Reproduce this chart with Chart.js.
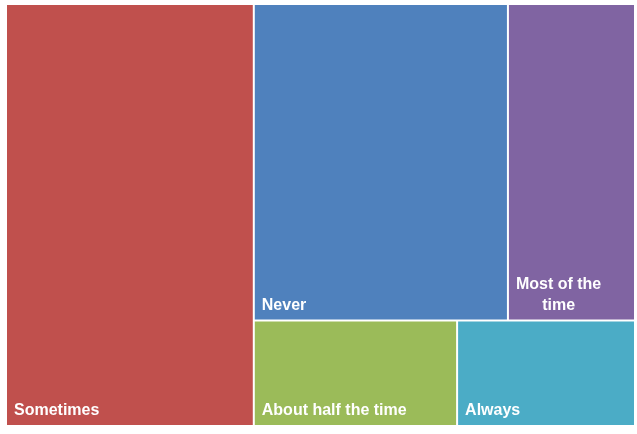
<!DOCTYPE html>
<html>
<head>
<meta charset="utf-8">
<script src="https://cdn.jsdelivr.net/npm/chart.js@4"></script>
<style>
  html, body { margin: 0; padding: 0; background: #fff; }
  #wrap { width: 637px; height: 434px; }
</style>
</head>
<body>
<div id="wrap"><canvas id="treeChart"></canvas></div>
<script>
const categories = ['Sometimes', 'Never', 'Most of the time', 'About half the time', 'Always'];
const values = [39, 30, 15, 8, 7];
const colors = ['#C0504D', '#4F81BD', '#8064A2', '#9BBB59', '#4BACC6'];
// cells per strip: first strip is a column, the next ones are rows
const stripSizes = [1, 2, 2];

// Bereken de rechthoeken in waarde-eenheden (0..1 op beide assen)
function layoutCells() {
  const cells = [];
  let rect = { x: 0, y: 0, w: 1, h: 1 };
  let rest = values.reduce((a, b) => a + b, 0);
  let idx = 0;
  stripSizes.forEach((n, s) => {
    const items = values.slice(idx, idx + n);
    const sum = items.reduce((a, b) => a + b, 0);
    if (s === 0) {
      const w = rect.w * sum / rest;
      let y = rect.y;
      items.forEach((v, k) => {
        const h = rect.h * v / sum;
        cells.push({ i: idx + k, x: rect.x, y: y, w: w, h: h });
        y += h;
      });
      rect = { x: rect.x + w, y: rect.y, w: rect.w - w, h: rect.h };
    } else {
      const h = rect.h * sum / rest;
      let x = rect.x;
      items.forEach((v, k) => {
        const w = rect.w * v / sum;
        cells.push({ i: idx + k, x: x, y: rect.y, w: w, h: h });
        x += w;
      });
      rect = { x: rect.x, y: rect.y + h, w: rect.w, h: rect.h - h };
    }
    rest -= sum;
    idx += n;
  });
  return cells;
}

function wrapWords(ctx, text, maxW) {
  const words = text.split(' ');
  const lines = [];
  let line = '';
  words.forEach(w => {
    const test = line ? line + ' ' + w : w;
    if (line && ctx.measureText(test).width > maxW) {
      lines.push(line);
      line = w;
    } else {
      line = test;
    }
  });
  if (line) lines.push(line);
  return lines;
}

const treemapPlugin = {
  id: 'treemapCells',
  afterDatasetsDraw(chart) {
    const ctx = chart.ctx;
    const xs = chart.scales.x;
    const ys = chart.scales.y;
    const cells = layoutCells();
    ctx.save();
    cells.forEach(c => {
      const x0 = xs.getPixelForValue(c.x);
      const x1 = xs.getPixelForValue(c.x + c.w);
      const y0 = ys.getPixelForValue(c.y);
      const y1 = ys.getPixelForValue(c.y + c.h);
      const left = Math.min(x0, x1) + 1, right = Math.max(x0, x1) - 1;
      const top = Math.min(y0, y1) + 1, bottom = Math.max(y0, y1) - 1;
      ctx.fillStyle = colors[c.i];
      ctx.fillRect(left, top, right - left, bottom - top);

      // label linksonder
      ctx.font = 'bold 16px "Liberation Sans", Arial, sans-serif';
      ctx.fillStyle = '#ffffff';
      ctx.textBaseline = 'alphabetic';
      ctx.textAlign = 'center';
      const pad = 7;
      const lines = wrapWords(ctx, categories[c.i], right - left - 2 * pad);
      const blockW = Math.max(...lines.map(l => ctx.measureText(l).width));
      const cx = left + pad + blockW / 2;
      const lineH = 21;
      lines.forEach((l, k) => {
        const by = bottom - 10 - (lines.length - 1 - k) * lineH;
        ctx.fillText(l, cx, by);
      });
    });
    ctx.restore();
  }
};

new Chart(document.getElementById('treeChart').getContext('2d'), {
  type: 'scatter',
  data: { datasets: [{ data: [] }] },
  options: {
    responsive: true,
    maintainAspectRatio: false,
    animation: false,
    layout: { padding: { left: 6, top: 4, right: 2, bottom: 8 } },
    scales: {
      x: { type: 'linear', min: 0, max: 1, display: false },
      y: { type: 'linear', min: 0, max: 1, reverse: true, display: false }
    },
    plugins: {
      legend: { display: false },
      tooltip: { enabled: false }
    }
  },
  plugins: [treemapPlugin]
});
</script>
</body>
</html>
